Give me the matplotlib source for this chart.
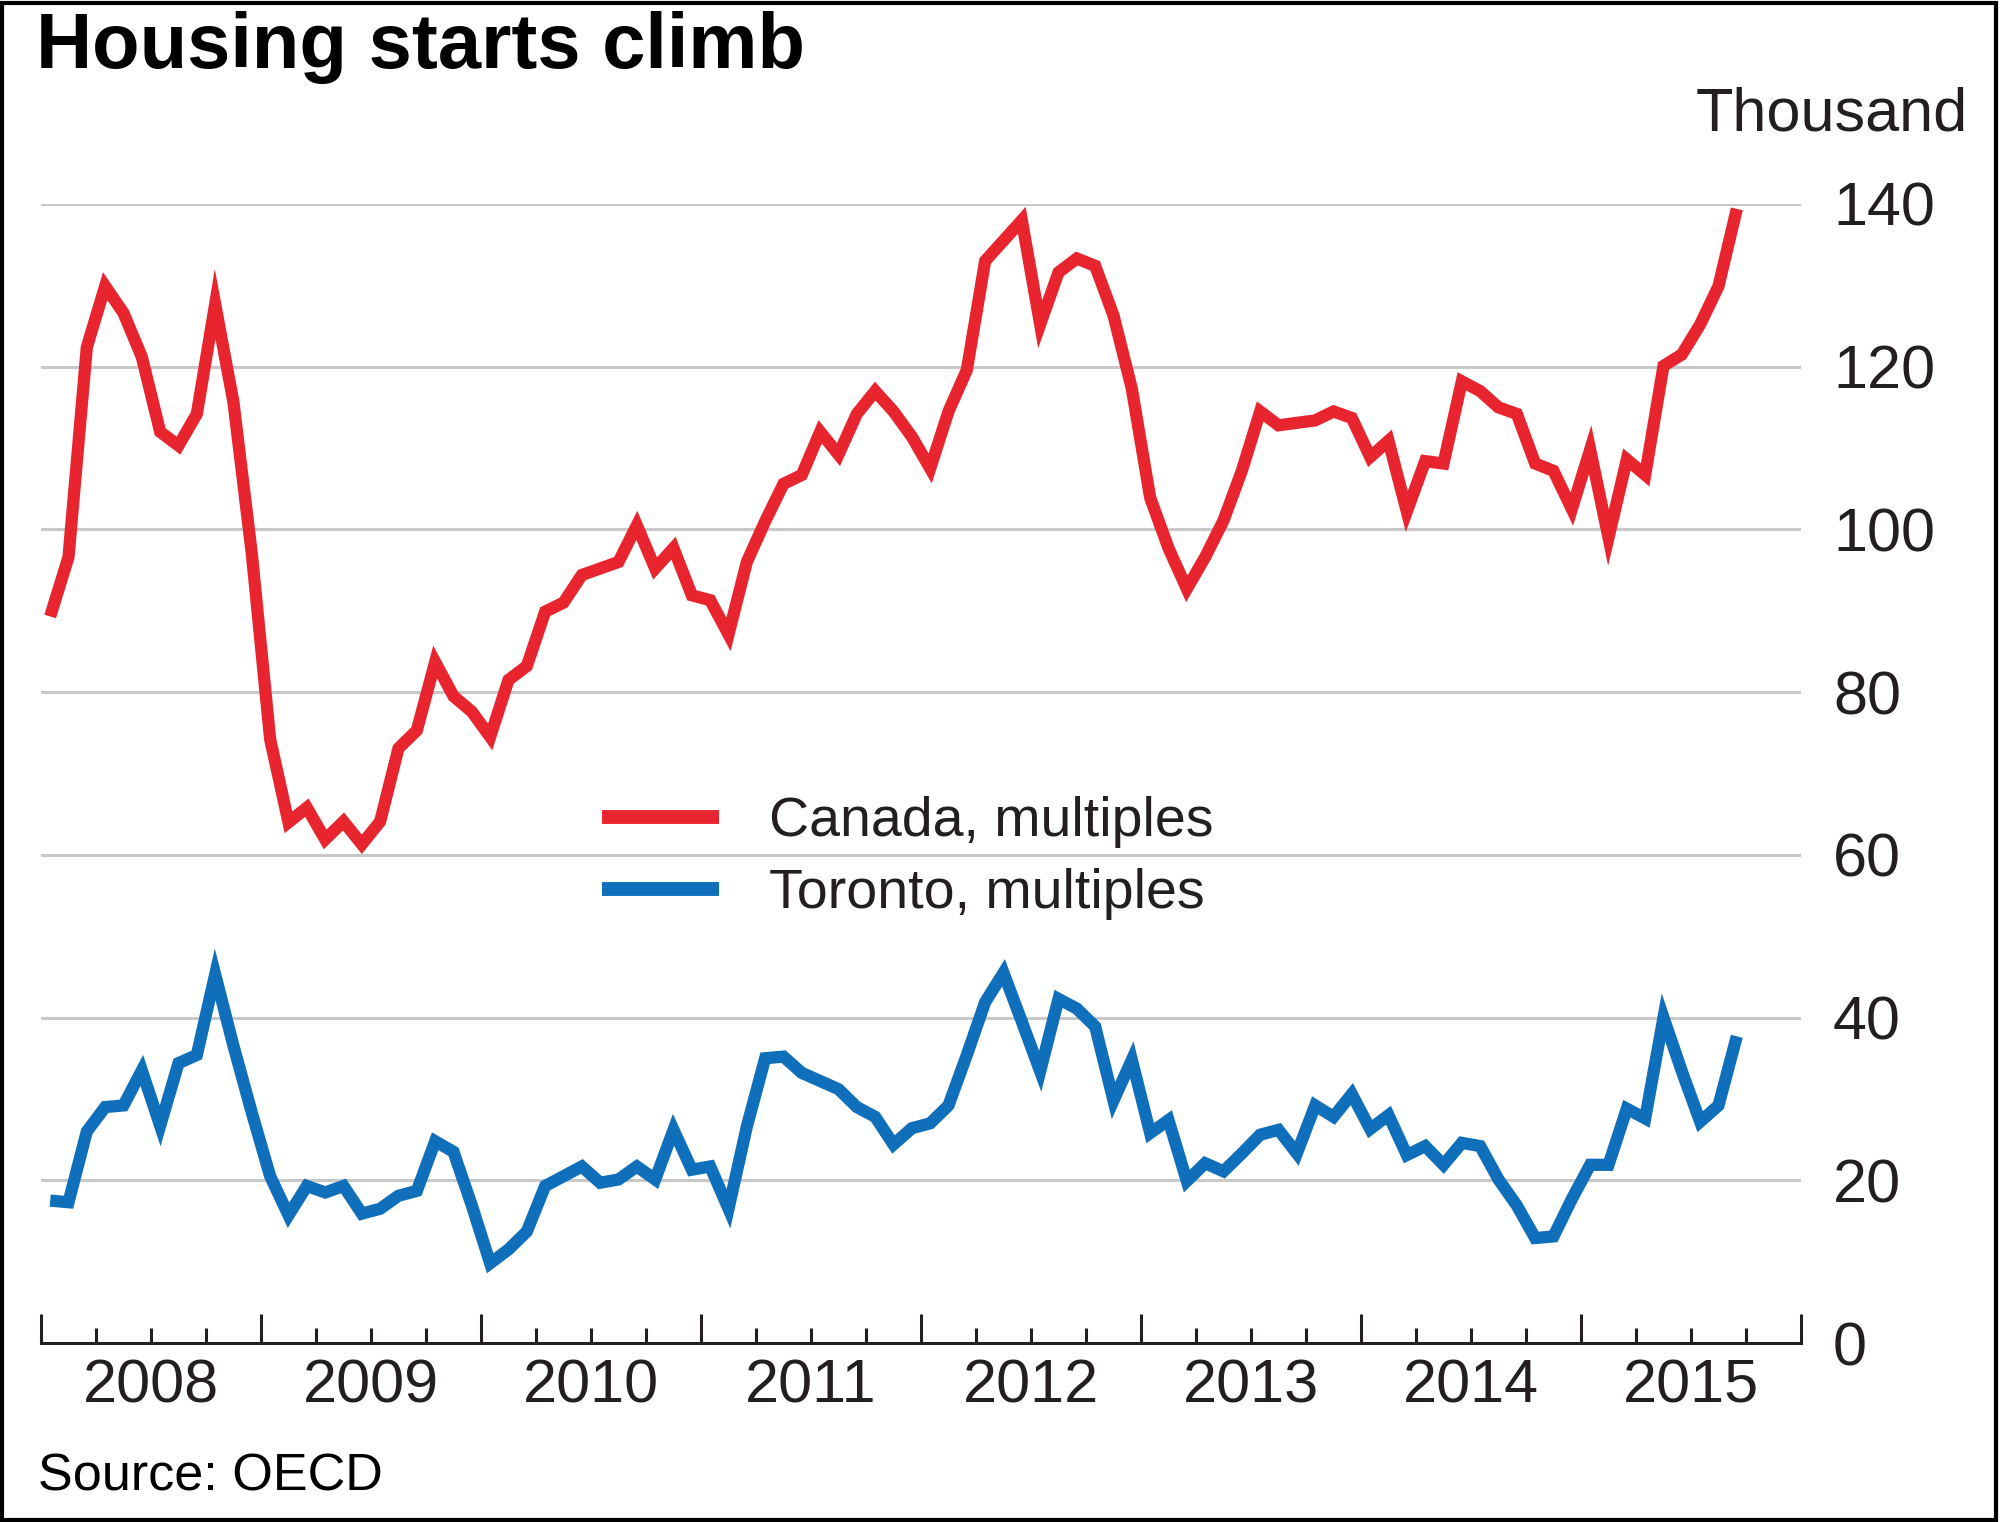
import matplotlib
matplotlib.use("Agg")
import matplotlib.pyplot as plt
import numpy as np
import pandas as pd
from matplotlib.patches import Rectangle

# ---------------- data (thousand units, monthly Jan 2008 - Sep 2015) ----------------
canada = [
    89.3, 96.6, 122.4, 129.9, 126.6, 121.2, 112.0, 110.3, 114.2, 127.7, 115.6, 97.0,   # 2008
    74.2, 64.0, 65.8, 61.9, 64.1, 61.3, 64.1, 73.1, 75.3, 83.7, 79.5, 77.6,            # 2009
    74.5, 81.5, 83.2, 89.9, 91.0, 94.4, 95.2, 96.0, 100.5, 95.2, 97.7, 91.9,           # 2010
    91.3, 87.1, 96.0, 101.0, 105.6, 106.7, 112.0, 109.2, 114.2, 117.0, 114.5, 111.4,   # 2011
    107.5, 114.5, 119.6, 133.0, 135.5, 138.0, 125.2, 131.6, 133.3, 132.4, 126.3, 117.3,  # 2012
    103.9, 97.7, 92.7, 96.6, 101.1, 107.2, 114.5, 112.8, 113.1, 113.4, 114.5, 113.7,  # 2013
    108.9, 110.9, 102.2, 108.4, 108.1, 118.2, 117.0, 115.0, 114.2, 108.1, 107.2, 102.5,  # 2014
    109.8, 99.0, 108.6, 106.7, 120.1, 121.5, 125.2, 129.9, 139.4,                      # 2015
]
toronto = [
    17.5, 17.3, 26.0, 29.0, 29.2, 33.5, 26.7, 34.4, 35.4, 45.3, 36.5, 28.3,   # 2008
    20.5, 15.7, 19.3, 18.5, 19.3, 15.9, 16.5, 18.1, 18.7, 24.8, 23.5, 16.9,   # 2009
    9.8, 11.5, 13.7, 19.3, 20.5, 21.7, 19.7, 20.1, 21.7, 20.1, 26.2, 21.3,    # 2010
    21.7, 16.5, 26.6, 35.0, 35.2, 33.2, 32.2, 31.2, 29.0, 27.8, 24.4, 26.4,   # 2011
    27.0, 29.2, 35.4, 41.9, 45.5, 39.5, 33.4, 42.3, 41.1, 38.9, 29.8, 34.8,   # 2012
    25.8, 27.4, 19.9, 22.1, 21.1, 23.3, 25.6, 26.2, 23.3, 29.2, 27.8, 30.6,   # 2013
    26.3, 28.0, 23.1, 24.2, 21.9, 24.6, 24.2, 20.1, 16.9, 12.9, 13.1, 17.7,   # 2014
    21.9, 21.9, 28.8, 27.6, 40.0, 33.4, 27.2, 29.2, 37.7,                     # 2015
]
dates = pd.date_range("2008-01-01", periods=len(canada), freq="MS")
years = [2008, 2009, 2010, 2011, 2012, 2013, 2014, 2015]
y_ticks = [0, 20, 40, 60, 80, 100, 120, 140]
labels = ["Canada, multiples", "Toronto, multiples"]
title = "Housing starts climb"
unit = "Thousand"
source = "Source: OECD"

# ---------------- figure ----------------
W, H = 2000, 1522
fig = plt.figure(figsize=(W / 100, H / 100), dpi=100)
plt.rcParams['font.family'] = ['Liberation Sans', 'DejaVu Sans']
txt_color = "#231f20"

ax = fig.add_axes([41 / W, 1 - 1343 / H, (1801 - 41) / W, (1343 - 204) / H])

x = np.array([(d.year - 2008) * 12 + d.month - 1 + 0.5 for d in dates])

red = "#e8252f"
blue = "#0f6fba"
ax.plot(x, canada, color=red, lw=8.8, solid_joinstyle="miter", solid_capstyle="butt",
        label=labels[0], clip_on=False, zorder=3)
ax.plot(x, toronto, color=blue, lw=8.8, solid_joinstyle="miter", solid_capstyle="butt",
        label=labels[1], clip_on=False, zorder=3)

ax.set_xlim(0, 12 * len(years))
ax.set_ylim(0, 140)

# grid lines
for v in y_ticks[1:]:
    ax.axhline(v, color="#c8c8c8", lw=2.2, zorder=1)

# spines
for s in ["top", "left", "right"]:
    ax.spines[s].set_visible(False)
ax.spines["bottom"].set_linewidth(2.2)
ax.spines["bottom"].set_color("#231f20")

# y axis on the right
ax.yaxis.tick_right()
ax.set_yticks(y_ticks)
ax.set_yticklabels([str(v) for v in y_ticks])
ax.tick_params(axis="y", length=0, pad=23, labelsize=44, labelcolor=txt_color)

# x axis: year boundaries (major) and quarters (minor), labels at mid-year
major = [12 * k for k in range(len(years) + 1)]
minor = [3 * k for k in range(4 * len(years) + 1) if (3 * k) % 12 != 0]
ax.set_xticks(major)
ax.set_xticklabels([""] * len(major))
ax.set_xticks(minor, minor=True)
ax.set_xticklabels([str(years[m // 12]) if m % 12 == 6 else "" for m in minor], minor=True)
ax.tick_params(axis="x", which="major", direction="in", length=21, width=2.2, color="#231f20")
ax.tick_params(axis="x", which="minor", direction="in", length=10.5, width=2.2, color="#231f20",
               pad=11, labelsize=44, labelcolor=txt_color)

# legend
leg = ax.legend(loc="upper left", bbox_to_anchor=(602 / W, 1 - 796 / H), bbox_transform=fig.transFigure,
                frameon=False, fontsize=40, handlelength=2.1, handletextpad=0.9, labelspacing=0.36,
                borderaxespad=0, borderpad=0)
for line in leg.get_lines():
    line.set_linewidth(10)
for t in leg.get_texts():
    t.set_color(txt_color)

# texts
fig.text(36 / W, 1 - 48 / H, title, fontsize=56, fontweight="bold",
         va="center", ha="left", color="black")
fig.text(1968 / W, 1 - 115 / H, unit, fontsize=44, va="center", ha="right", color=txt_color)
fig.text(38 / W, 1 - 1477 / H, source, fontsize=37.5, va="center", ha="left", color="black")

# outer frame
fig.patches.append(Rectangle((0.001, 0.001), 0.997, 0.997, transform=fig.transFigure,
                             fill=False, edgecolor="black", lw=3))

fig.savefig("out.png", dpi=100)
